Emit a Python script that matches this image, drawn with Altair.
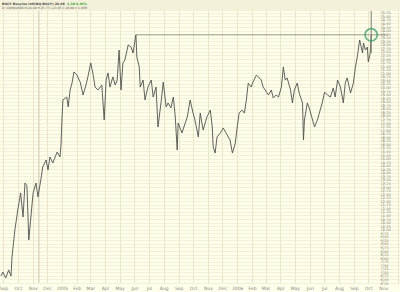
import altair as alt
import pandas as pd

dates = [
    "2004-08-27", "2004-08-31", "2004-09-06", "2004-09-12", "2004-09-17", "2004-09-19",
    "2004-09-25", "2004-10-01", "2004-10-07", "2004-10-12", "2004-10-16", "2004-10-20",
    "2004-10-24", "2004-10-30", "2004-11-02", "2004-11-08", "2004-11-12", "2004-11-18",
    "2004-11-22", "2004-11-29", "2004-12-03", "2004-12-07", "2004-12-13", "2004-12-22",
    "2004-12-28", "2004-12-30", "2005-01-01", "2005-01-03", "2005-01-11", "2005-01-14",
    "2005-01-18", "2005-01-22", "2005-01-26", "2005-02-01", "2005-02-08", "2005-02-14",
    "2005-02-20", "2005-02-24", "2005-03-02", "2005-03-07", "2005-03-11", "2005-03-17",
    "2005-03-25", "2005-03-30", "2005-04-03", "2005-04-07", "2005-04-11", "2005-04-17",
    "2005-04-22", "2005-04-26", "2005-04-30", "2005-05-04", "2005-05-08", "2005-05-12",
    "2005-05-19", "2005-05-25", "2005-05-29", "2005-06-04", "2005-06-06", "2005-06-11",
    "2005-06-13", "2005-06-19", "2005-06-23", "2005-06-29", "2005-07-06", "2005-07-10",
    "2005-07-16", "2005-07-20", "2005-07-27", "2005-07-31", "2005-08-06", "2005-08-10",
    "2005-08-16", "2005-08-21", "2005-08-25", "2005-08-29", "2005-08-31", "2005-09-08",
    "2005-09-12", "2005-09-19", "2005-09-25", "2005-10-01", "2005-10-05", "2005-10-12",
    "2005-10-16", "2005-10-22", "2005-10-30", "2005-11-06", "2005-11-10", "2005-11-12",
    "2005-11-16", "2005-11-20", "2005-11-27", "2005-12-03", "2005-12-11", "2005-12-17",
    "2005-12-22", "2005-12-24", "2005-12-28", "2006-01-01", "2006-01-05", "2006-01-11",
    "2006-01-16", "2006-01-20", "2006-01-24", "2006-01-30", "2006-02-03", "2006-02-10",
    "2006-02-14", "2006-02-20", "2006-02-24", "2006-03-03", "2006-03-07", "2006-03-13",
    "2006-03-17", "2006-03-23", "2006-03-28", "2006-04-03", "2006-04-07", "2006-04-11",
    "2006-04-15", "2006-04-22", "2006-04-26", "2006-04-30", "2006-05-06", "2006-05-10",
    "2006-05-17", "2006-05-19", "2006-05-21", "2006-05-27", "2006-05-31", "2006-06-07",
    "2006-06-11", "2006-06-17", "2006-06-21", "2006-06-27", "2006-07-02", "2006-07-08",
    "2006-07-14", "2006-07-20", "2006-07-24", "2006-07-29", "2006-08-04", "2006-08-10",
    "2006-08-14", "2006-08-18", "2006-08-25", "2006-08-31", "2006-09-04", "2006-09-08",
    "2006-09-13", "2006-09-19", "2006-09-21", "2006-09-25", "2006-09-29", "2006-10-01",
    "2006-10-05", "2006-10-07",
]
prices = [
    6.74, 7.02, 6.60, 7.16, 6.74, 8.08,
    9.98, 11.38, 12.58, 10.89, 13.28, 13.10,
    9.27, 11.52, 12.58, 13.28, 12.30, 13.49,
    14.41, 14.90, 14.20, 15.11, 14.69, 15.46,
    15.11, 15.95, 17.71, 19.12, 19.33, 18.63,
    19.82, 20.31, 21.09, 20.88, 20.38, 19.47,
    20.17, 20.74, 21.72, 20.88, 20.03, 19.82,
    20.17, 17.71, 20.52, 21.02, 20.03, 20.74,
    20.17, 20.52, 22.63, 19.82, 21.72, 21.93,
    22.99, 22.84, 22.42, 23.70, 22.14, 21.44,
    20.03, 20.52, 19.12, 20.03, 20.52, 19.33,
    20.03, 17.22, 19.12, 20.38, 18.63, 18.91,
    18.56, 19.33, 17.92, 15.60, 17.50, 16.80,
    17.22, 17.92, 19.12, 18.20, 17.71, 16.52,
    18.20, 17.01, 17.92, 18.41, 17.22, 15.81,
    15.39, 16.52, 16.80, 17.15, 16.66, 16.31,
    15.39, 15.60, 16.09, 17.22, 18.20, 18.41,
    18.20, 19.12, 20.31, 20.03, 20.38, 20.88,
    20.74, 20.52, 20.03, 19.68, 19.47, 19.82,
    19.26, 19.47, 19.33, 20.03, 21.44, 20.52,
    20.67, 19.82, 18.91, 19.82, 20.31, 19.61,
    18.91, 16.31, 17.71, 18.91, 18.56, 17.71,
    17.22, 17.71, 18.20, 18.91, 19.68, 19.47,
    19.33, 19.96, 19.33, 20.52, 20.03, 18.91,
    20.31, 20.67, 19.61, 20.31, 21.40, 22.14,
    23.34, 22.42, 23.13, 22.63, 22.84, 21.79,
    22.42, 23.69,
]

# annotations
resist_level = 23.70
resist_start = "2005-06-04"
resist_end = "2006-11-12"
last_date = "2006-10-07"
spike_low, spike_high = 22.40, 25.60
marker_line_date = "2004-11-14"

header_line1 = "BUCY Bucyrus Intl(NQ:BUCY) 26.08"
header_change = "1.58  6.45%"
header_line2 = "D: 10/09/2006 O:24.49 H:25.77 L:23.05 C:26.08 V:1.05M"

y_ticks = [round(6.25 + 0.25 * i, 2) for i in range(80)]

df = pd.DataFrame({"date": dates, "price": prices})

X_DOMAIN = ["2004-08-25", "2006-12-06"]
Y_DOMAIN = [6.25, 26.15]
GRID = "#efecd3"
LABEL = "#8a8a80"

xscale = alt.Scale(domain=X_DOMAIN)
yscale = alt.Scale(domain=Y_DOMAIN, nice=False, zero=False)

x_axis = alt.Axis(
    title=None, grid=True, gridColor="#e8e4c4", gridWidth=1, domain=False, ticks=False,
    tickCount={"interval": "month", "step": 1},
    labelExpr=("datum.value > datetime(2006, 10, 15) ? '' : "
               "(month(datum.value) == 0 ? timeFormat(datum.value, '%Y') : timeFormat(datum.value, '%b'))"),
    labelFontSize=4.5, labelColor=LABEL, labelPadding=2, labelFont="DejaVu Sans",
    labelAlign="center", labelOverlap=False, labelFlush=False,
)
y_axis = alt.Axis(
    title=None, orient="right", offset=-22, values=y_ticks, format=".2f",
    grid=True, gridColor=GRID, gridWidth=0.8, domain=False, ticks=False,
    labelFontSize=3.6, labelColor=LABEL, labelPadding=2, labelFont="DejaVu Sans",
    labelOverlap=False, labelFlush=False,
)

line = alt.Chart(df).mark_line(color="#505050", strokeWidth=0.9).encode(
    x=alt.X("date:T", scale=xscale, axis=x_axis),
    y=alt.Y("price:Q", scale=yscale, axis=y_axis),
)

vline_df = pd.DataFrame({"date": [marker_line_date]})
vline = alt.Chart(vline_df).mark_rule(color="#c9c6b0", strokeWidth=1).encode(
    x=alt.X("date:T", scale=xscale, axis=x_axis), y=alt.value(0), y2=alt.value(283)
)

resist_df = pd.DataFrame({"d1": [resist_start], "d2": [resist_end], "p": [resist_level]})
resist = alt.Chart(resist_df).mark_rule(color="#9a9a90", strokeWidth=1).encode(
    x=alt.X("d1:T", scale=xscale, axis=x_axis), x2="d2:T",
    y=alt.Y("p:Q", scale=yscale, axis=y_axis),
)

spike_df = pd.DataFrame({"d": [last_date], "lo": [spike_low], "hi": [spike_high]})
spike = alt.Chart(spike_df).mark_rule(color="#7a7a70", strokeWidth=1).encode(
    x=alt.X("d:T", scale=xscale, axis=x_axis),
    y=alt.Y("lo:Q", scale=yscale, axis=y_axis), y2="hi:Q",
)

circle_df = pd.DataFrame({"d": [last_date], "p": [resist_level]})
circle = alt.Chart(circle_df).mark_point(
    shape="circle", filled=False, color="#2f9e63", strokeWidth=1.8, size=150
).encode(
    x=alt.X("d:T", scale=xscale, axis=x_axis),
    y=alt.Y("p:Q", scale=yscale, axis=y_axis),
)

hdr_df = pd.DataFrame({"a": [header_line1], "b": [header_change], "c": [header_line2]})
band = alt.Chart(hdr_df).mark_rect(color="#f4f1da").encode(
    x=alt.value(0), x2=alt.value(400), y=alt.value(0), y2=alt.value(11)
)
t1 = alt.Chart(hdr_df).mark_text(
    align="left", baseline="middle", fontSize=3.2, color="#444", font="DejaVu Sans", fontWeight="bold"
).encode(x=alt.value(2), y=alt.value(3.5), text="a:N")
t2 = alt.Chart(hdr_df).mark_text(
    align="left", baseline="middle", fontSize=3.2, color="#2aa02a", font="DejaVu Sans", fontWeight="bold"
).encode(x=alt.value(67), y=alt.value(3.5), text="b:N")
t3 = alt.Chart(hdr_df).mark_text(
    align="left", baseline="middle", fontSize=3.0, color="#555", font="DejaVu Sans"
).encode(x=alt.value(2), y=alt.value(8), text="c:N")

chart = alt.layer(vline, line, resist, spike, circle, band, t1, t2, t3).properties(
    width=400, height=283,
    autosize=alt.AutoSizeParams(type="none"),
    padding={"left": 0, "top": 0, "right": 0, "bottom": 9},
    background="#fefeeb",
).configure_view(stroke=None, fill="#fefeeb")

chart.save("out.html", embed_options={"renderer": "svg", "actions": False})
